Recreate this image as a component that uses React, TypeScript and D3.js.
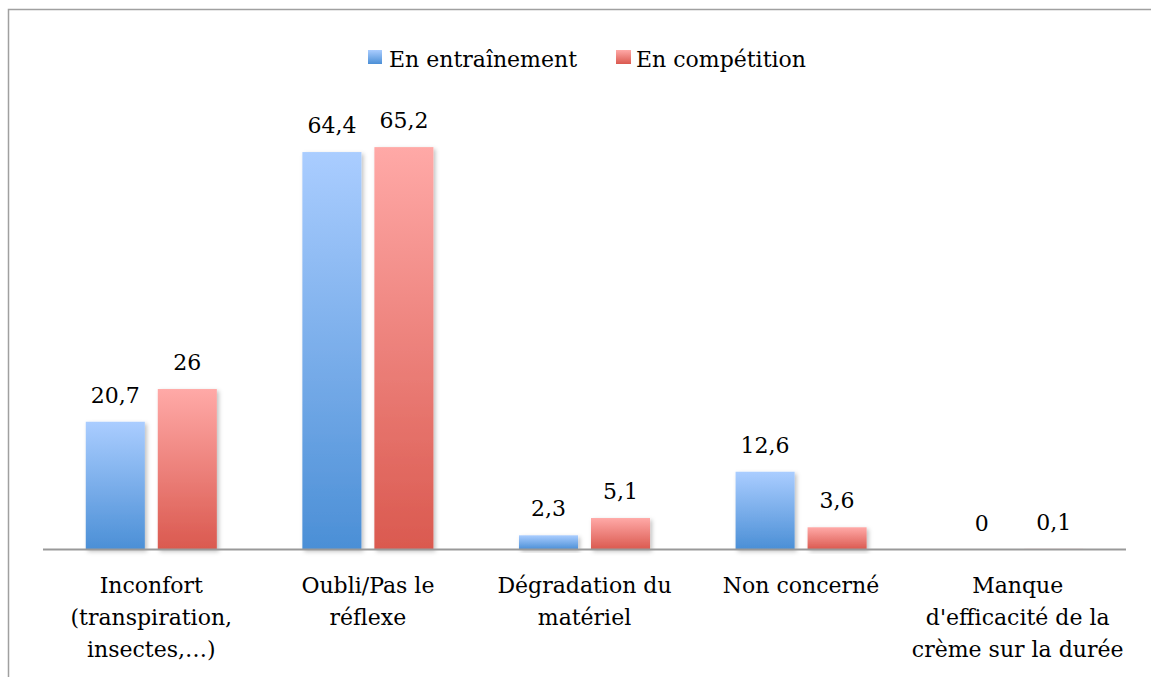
import React from 'react';
import * as d3 from 'd3';

const categories = ['Inconfort', 'Oubli', 'Dégradation', 'Non concerné', 'Manque'];
const categoryLabels = [
  ['Inconfort', '(transpiration,', 'insectes,…)'],
  ['Oubli/Pas le', 'réflexe'],
  ['Dégradation du', 'matériel'],
  ['Non concerné'],
  ['Manque', "d'efficacité de la", 'crème sur la durée'],
];
const seriesNames = ['En entraînement', 'En compétition'];
const entrainement = [20.7, 64.4, 2.3, 12.6, 0];
const competition = [26, 65.2, 5.1, 3.6, 0.1];
const seriesValues = [entrainement, competition];

const gradients = [
  { id: 'gradBlue', top: '#aacdff', bottom: '#4b8fd6' },
  { id: 'gradRed', top: '#ffa9a7', bottom: '#da594f' },
];

const fmt = (v: number) => String(v).replace('.', ',');

const W = 1151;
const H = 677;
const FONT = '"DejaVu Serif", "Liberation Serif", serif';

export default function App() {
  const x0 = d3.scaleBand<string>().domain(categories).range([43, 1126]);
  const x1 = d3
    .scaleBand<string>()
    .domain(seriesNames)
    .range([0, x0.bandwidth()])
    .paddingInner(0.18)
    .paddingOuter(0.594);
  const y = d3.scaleLinear().domain([0, 70]).range([549.5, 117.5]);

  return (
    <svg
      width={W}
      height={H}
      style={{ position: 'absolute', left: 0, top: 0, background: '#fff' }}
      fontFamily={FONT}
    >
      <defs>
        {gradients.map((g) => (
          <linearGradient key={g.id} id={g.id} x1="0" y1="0" x2="0" y2="1">
            <stop offset="0%" stopColor={g.top} />
            <stop offset="100%" stopColor={g.bottom} />
          </linearGradient>
        ))}
        <filter id="shadow" x="-20%" y="-20%" width="140%" height="140%">
          <feDropShadow dx="2" dy="2" stdDeviation="2" floodColor="#000" floodOpacity="0.25" />
        </filter>
      </defs>

      {/* frame */}
      <rect x={8.5} y={9.5} width={W + 10} height={H + 10} fill="none" stroke="#a0a0a0" strokeWidth={1.5} />

      {/* legend */}
      <g fontSize={22}>
        <rect x={368} y={50} width={14} height={14} fill={`url(#${gradients[0].id})`} />
        <text x={389} y={67}>{seriesNames[0]}</text>
        <rect x={616} y={50} width={15} height={14} fill={`url(#${gradients[1].id})`} />
        <text x={636} y={67}>{seriesNames[1]}</text>
      </g>

      {/* bars */}
      {categories.map((c, i) => (
        <g key={c} transform={`translate(${x0(c)},0)`}>
          {seriesNames.map((s, j) => {
            const v = seriesValues[j][i];
            const bx = x1(s)!;
            return (
              <g key={s}>
                {v > 0 && (
                  <rect
                    x={bx}
                    y={y(v)}
                    width={x1.bandwidth()}
                    height={y(0) - y(v)}
                    fill={`url(#${gradients[j].id})`}
                    filter="url(#shadow)"
                  />
                )}
                <text
                  x={bx + x1.bandwidth() / 2}
                  y={y(v) - 19}
                  textAnchor="middle"
                  fontSize={22}
                  fill="#000"
                >
                  {fmt(v)}
                </text>
              </g>
            );
          })}
        </g>
      ))}

      {/* axis line */}
      <line x1={43} x2={1126} y1={y(0)} y2={y(0)} stroke="#999" strokeWidth={2} />

      {/* category labels */}
      {categories.map((c, i) => (
        <text key={c} textAnchor="middle" fontSize={22} fill="#000">
          {categoryLabels[i].map((line, k) => (
            <tspan key={k} x={x0(c)! + x0.bandwidth() / 2} y={593 + k * 32}>
              {line}
            </tspan>
          ))}
        </text>
      ))}
    </svg>
  );
}
